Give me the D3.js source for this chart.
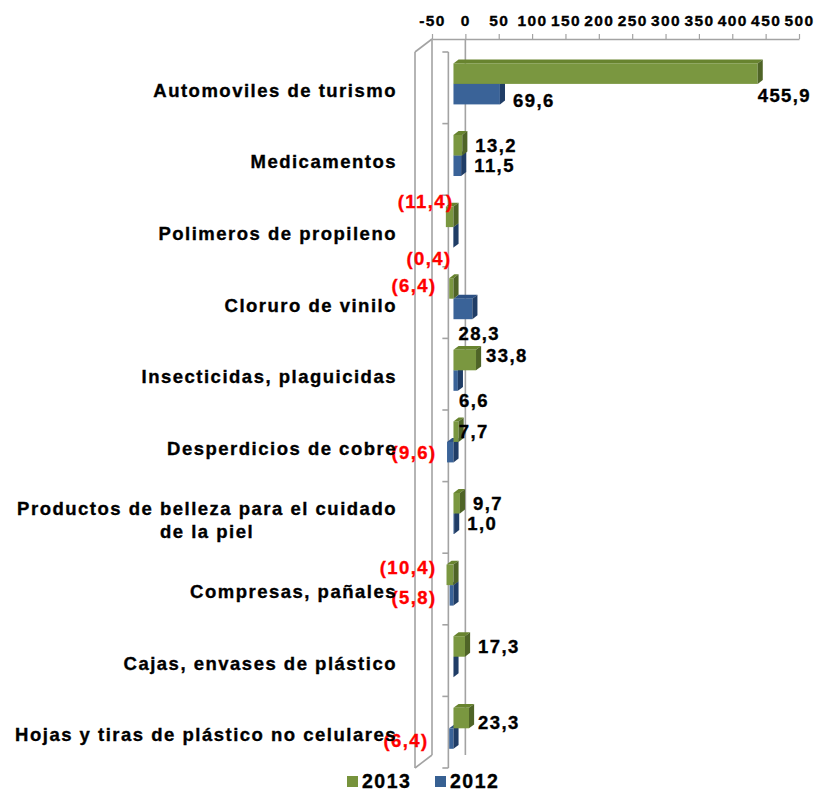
<!DOCTYPE html>
<html>
<head>
<meta charset="utf-8">
<script src="https://cdn.jsdelivr.net/npm/d3@7"></script>
<style>
  html, body { margin: 0; padding: 0; background: #fff; }
  svg { display: block; }
  text { font-family: "Liberation Sans", Arial, sans-serif; font-weight: bold; stroke-width: 0.35px; paint-order: stroke; }
</style>
</head>
<body>
<svg id="chart" width="817" height="793"></svg>
<script>
// Categories (top to bottom) and the two yearly series
const categories = [
  "Automoviles de turismo",
  "Medicamentos",
  "Polimeros de propileno",
  "Cloruro de vinilo",
  "Insecticidas, plaguicidas",
  "Desperdicios de cobre",
  "Productos de belleza para el cuidado\nde la piel",
  "Compresas, pañales",
  "Cajas, envases de plástico",
  "Hojas y tiras de plástico no celulares"
];
const seriesNames = ["2013", "2012"];
const values2013 = [455.9, 13.2, -11.4, -6.4, 33.8, 7.7, 9.7, -10.4, 17.3, 23.3];
const values2012 = [69.6, 11.5, -0.4, 28.3, 6.6, -9.6, 1.0, -5.8, 0, -6.4];
const tickValues = [-50, 0, 50, 100, 150, 200, 250, 300, 350, 400, 450, 500];

const seriesValues = { "2013": values2013, "2012": values2012 };
const palette = {
  "2013": { front: "#7a9740", top: "#68842f", side: "#4f6427", key: "#77933c" },
  "2012": { front: "#3a6398", top: "#2d5184", side: "#203d66", key: "#376092" }
};

const svg = d3.select("#chart");

// Oblique 3D projection: the back wall is shifted right/up from the front plane
const DEPTH = { dx: 17, dy: -13 };
const x = d3.scaleLinear().domain([-50, 500]).range([432, 799]);   // back wall
const xf = v => x(v) - DEPTH.dx;                                     // front plane
const y = d3.scaleBand().domain(categories).range([52, 768]);        // front plane
const inner = d3.scaleBand().domain(seriesNames).range([0, y.bandwidth()]).paddingOuter(0.746);

// bars sit 30% into the box depth and are 30% deep
const barOff = { dx: DEPTH.dx * 0.3, dy: DEPTH.dy * 0.3 };
const thick = { dx: DEPTH.dx * 0.3, dy: DEPTH.dy * 0.3 };
const bx = v => xf(v) + barOff.dx;

const grid = "#a3a3a3";
const yTop = y.range()[0], yBot = y.range()[1];

// ---- walls / grid ----
const gWall = svg.append("g").attr("fill", "none").attr("stroke", grid).attr("stroke-width", 1.6);
// side wall at -50 (front edge, back edge and connecting diagonals)
gWall.append("line").attr("x1", xf(-50)).attr("x2", xf(-50)).attr("y1", yTop).attr("y2", yBot);
gWall.append("line").attr("x1", x(-50)).attr("x2", x(-50)).attr("y1", yTop + DEPTH.dy).attr("y2", yBot + DEPTH.dy);
gWall.append("line").attr("x1", xf(-50)).attr("y1", yTop).attr("x2", x(-50)).attr("y2", yTop + DEPTH.dy);
gWall.append("line").attr("x1", xf(-50)).attr("y1", yBot).attr("x2", x(-50)).attr("y2", yBot + DEPTH.dy);
// zero line on the back wall
gWall.append("line").attr("x1", x(0)).attr("x2", x(0)).attr("y1", yTop + DEPTH.dy).attr("y2", yBot + DEPTH.dy);
// category axis on the front plane with boundary ticks
gWall.append("line").attr("x1", xf(0)).attr("x2", xf(0)).attr("y1", yTop).attr("y2", yBot);
gWall.selectAll("line.cattick")
  .data(categories.map(c => y(c)).concat([yBot]))
  .join("line").attr("class", "cattick")
  .attr("x1", xf(0) - 6).attr("x2", xf(0)).attr("y1", d => d).attr("y2", d => d);

// ---- value axis on top ----
const axis = d3.axisTop(x)
  .tickValues(tickValues)
  .tickSize(5)
  .tickSizeOuter(0)
  .tickPadding(8.5)
  .tickFormat(d => String(d));
const gAxis = svg.append("g").attr("transform", `translate(0,${yTop + DEPTH.dy})`).call(axis);
gAxis.select(".domain").attr("stroke", grid).attr("stroke-width", 1.4);
gAxis.selectAll(".tick line").attr("stroke", grid).attr("stroke-width", 1.2);
gAxis.selectAll(".tick text")
  .attr("fill", "#000")
  .attr("stroke", "#000")
  .style("font-family", "'Liberation Sans', Arial, sans-serif")
  .style("font-weight", "bold")
  .style("font-size", "15.5px")
  .style("letter-spacing", "1.4px");

// ---- bars ----
const bars = [];
categories.forEach((c, i) => {
  seriesNames.forEach(s => bars.push({ c, i, s, v: seriesValues[s][i] }));
});
// bottom category first; within a category the lower (2012) bar first
bars.sort((a, b) => b.i - a.i || (a.s === "2012" ? -1 : 1));

const gBars = svg.append("g");
bars.forEach(d => {
  const x0 = Math.min(bx(0), bx(d.v)), x1 = Math.max(bx(0), bx(d.v));
  const yt = y(d.c) + inner(d.s) + barOff.dy, yb = yt + inner.bandwidth();
  const col = palette[d.s];
  const g = gBars.append("g");
  // top face
  g.append("path")
    .attr("d", `M${x0},${yt}L${x1},${yt}L${x1 + thick.dx},${yt + thick.dy}L${x0 + thick.dx},${yt + thick.dy}Z`)
    .attr("fill", col.top);
  // front face
  g.append("rect").attr("x", x0).attr("y", yt).attr("width", x1 - x0).attr("height", yb - yt).attr("fill", col.front);
  // end face
  g.append("path")
    .attr("d", `M${x1},${yt}L${x1 + thick.dx},${yt + thick.dy}L${x1 + thick.dx},${yb + thick.dy}L${x1},${yb}Z`)
    .attr("fill", col.side);
});

// ---- data labels ----
const fmt = v => {
  const s = d3.format(".1f")(Math.abs(v)).replace(".", ",");
  return v < 0 ? `(${s})` : s;
};
// hand-placed label nudges, keyed by category index and series
const nudge = {
  "0|2012": [0, 6],
  "2|2013": [17, -15],
  "2|2012": [15, 21],
  "3|2013": [0, -3],
  "3|2012": [-27, 24],
  "4|2013": [-3, -5],
  "4|2012": [-12, 20],
  "5|2013": [-13, 0],
  "7|2013": [0, -7],
  "7|2012": [0, 2],
  "9|2013": [-4, 4],
  "9|2012": [-8, 2]
};
const gLabels = svg.append("g").style("font-size", "18.5px").style("letter-spacing", "1.4px");
categories.forEach((c, i) => {
  seriesNames.forEach(s => {
    const v = seriesValues[s][i];
    if (v === 0) return;
    const yc = y(c) + inner(s) + inner.bandwidth() / 2 + barOff.dy;
    const [ndx, ndy] = nudge[`${i}|${s}`] || [0, 0];
    const t = gLabels.append("text").text(fmt(v));
    if (v > 0) {
      t.attr("x", bx(v) + thick.dx + 8 + ndx).attr("y", yc + 6.6 + ndy)
        .attr("text-anchor", "start").attr("fill", "#000").attr("stroke", "#000");
      const w = t.node().getComputedTextLength();
      if (bx(v) + thick.dx + 8 + w > 812) {
        // keep inside the chart area: tuck under the bar end
        t.attr("text-anchor", "end").attr("x", 811).attr("y", yc + 6.6 + 22);
      }
    } else {
      t.attr("x", bx(0) - 17 + ndx).attr("y", yc + 6.6 + ndy)
        .attr("text-anchor", "end").attr("fill", "#ff0000").attr("stroke", "#ff0000");
    }
  });
});

// ---- category labels ----
const gCat = svg.append("g").style("font-size", "18.5px").style("letter-spacing", "1.5px")
  .attr("fill", "#000").attr("stroke", "#000");
const labelRight = 397;
categories.forEach(c => {
  const lines = c.split("\n");
  const cy = y(c) + y.bandwidth() / 2 + 2.4;
  const texts = lines.map((ln, k) =>
    gCat.append("text").text(ln).attr("text-anchor", "middle")
      .attr("y", cy + (k - (lines.length - 1) / 2) * 23.7 + 6.6));
  const blockW = d3.max(texts, t => t.node().getComputedTextLength());
  texts.forEach(t => t.attr("x", labelRight - blockW / 2));
});

// ---- legend ----
const gLeg = svg.append("g").style("font-size", "19.5px").style("letter-spacing", "1.5px");
const legX = [347, 435];
seriesNames.forEach((s, k) => {
  gLeg.append("rect").attr("x", legX[k]).attr("y", 776).attr("width", 11).attr("height", 11).attr("fill", palette[s].key);
  gLeg.append("text").attr("x", legX[k] + 15).attr("y", 787.5).attr("fill", "#000").attr("stroke", "#000").text(s);
});
</script>
</body>
</html>
